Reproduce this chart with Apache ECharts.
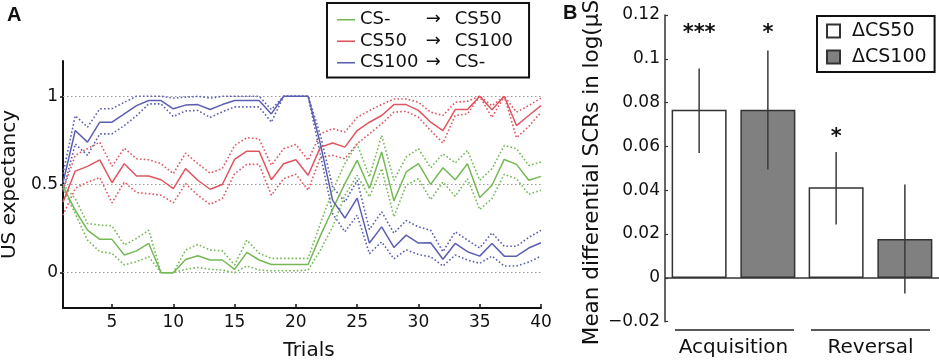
<!DOCTYPE html>
<html><head><meta charset="utf-8">
<script src="https://cdn.jsdelivr.net/npm/echarts@6/dist/echarts.min.js"></script>
<style>html,body{margin:0;padding:0;background:#fff}#c{width:939px;height:360px}</style>
</head><body><div id="c"></div>
<script>
// ---------- Panel A data ----------
const trials = [1,2,3,4,5,6,7,8,9,10,11,12,13,14,15,16,17,18,19,20,21,22,23,24,25,26,27,28,29,30,31,32,33,34,35,36,37,38,39,40];
const xTickValues = [5,10,15,20,25,30,35,40];
const yTickValues = [0,0.5,1];
const conditions = ['CS-','CS50','CS100'];
const reversalTargets = ['CS50','CS100','CS-'];

const csMinusMean = [0.49,0.354,0.241,0.189,0.189,0.10,0.124,0.166,0.0,0.0,0.075,0.096,0.072,0.072,0.019,0.115,0.072,0.047,0.047,0.047,0.047,0.21,0.36,0.505,0.637,0.477,0.684,0.407,0.571,0.618,0.501,0.595,0.527,0.618,0.426,0.496,0.642,0.614,0.524,0.546];
const csMinusUpper = [0.50,0.42,0.279,0.27,0.266,0.157,0.194,0.241,0.0,0.0,0.128,0.16,0.128,0.124,0.044,0.185,0.11,0.081,0.081,0.081,0.081,0.279,0.467,0.618,0.731,0.543,0.778,0.524,0.656,0.703,0.595,0.674,0.622,0.693,0.524,0.59,0.721,0.703,0.608,0.627];
const csMinusLower = [0.48,0.335,0.185,0.119,0.11,0.044,0.063,0.09,0.0,0.0,0.019,0.03,0.019,0.015,0.0,0.038,0.015,0.011,0.011,0.011,0.015,0.128,0.26,0.439,0.552,0.43,0.59,0.317,0.496,0.533,0.414,0.514,0.433,0.533,0.358,0.42,0.558,0.533,0.445,0.467];

const cs50Mean = [0.40,0.576,0.603,0.64,0.51,0.618,0.548,0.548,0.527,0.477,0.59,0.524,0.473,0.50,0.642,0.689,0.689,0.527,0.618,0.64,0.552,0.712,0.735,0.712,0.806,0.853,0.891,0.953,0.953,0.92,0.853,0.806,0.925,0.925,1.0,0.923,1.0,0.834,0.891,0.947];
const cs50Upper = [0.47,0.665,0.703,0.74,0.603,0.706,0.646,0.64,0.618,0.561,0.678,0.618,0.565,0.59,0.721,0.765,0.759,0.609,0.703,0.727,0.637,0.787,0.816,0.797,0.881,0.919,0.953,0.985,0.985,0.966,0.91,0.891,0.966,0.972,1.0,0.947,1.0,0.91,0.947,0.99];
const cs50Lower = [0.326,0.477,0.514,0.539,0.396,0.514,0.454,0.448,0.439,0.396,0.505,0.439,0.388,0.42,0.561,0.614,0.614,0.439,0.533,0.558,0.467,0.655,0.665,0.646,0.731,0.787,0.844,0.91,0.915,0.881,0.806,0.735,0.891,0.9,1.0,0.88,1.0,0.765,0.829,0.91];

const cs100Mean = [0.51,0.806,0.74,0.853,0.853,0.90,0.947,0.976,0.976,0.929,0.95,0.953,0.925,0.953,0.976,0.976,0.976,0.90,1.0,1.0,1.0,0.73,0.41,0.31,0.423,0.168,0.26,0.143,0.213,0.168,0.17,0.076,0.166,0.119,0.094,0.166,0.094,0.094,0.14,0.17];
const cs100Upper = [0.56,0.89,0.825,0.929,0.93,0.966,1.0,1.0,1.0,0.99,0.995,1.0,0.99,1.0,1.0,1.0,1.0,0.925,1.0,1.0,1.0,0.78,0.486,0.401,0.524,0.245,0.345,0.224,0.296,0.26,0.24,0.119,0.232,0.185,0.14,0.226,0.15,0.15,0.2,0.24];
const cs100Lower = [0.46,0.73,0.665,0.787,0.787,0.834,0.89,0.957,0.957,0.885,0.917,0.92,0.88,0.912,0.94,0.94,0.94,0.853,1.0,1.0,1.0,0.67,0.335,0.232,0.326,0.108,0.175,0.079,0.13,0.103,0.09,0.038,0.1,0.072,0.053,0.094,0.038,0.038,0.06,0.094];

// ---------- Panel B data ----------
const phases = ['Acquisition','Reversal'];
const barSeriesNames = ['ΔCS50','ΔCS100'];
const deltaCS50 = [0.0767, 0.0414];
const deltaCS100 = [0.0767, 0.0178];
const deltaCS50Err = [[0.057, 0.0956],[0.0244, 0.0575]];
const deltaCS100Err = [[0.0495, 0.1038],[-0.0071, 0.0426]];
const deltaCS50Stars = ['***','*'];
const deltaCS100Stars = ['*',''];
const deltaCS50StarY = [0.1136, 0.0662];
const deltaCS100StarY = [0.1136, null];
const baselineValue = 0;

// ---------- style ----------
const FONT = 'DejaVu Sans';
const colors = ['#74b955','#e05560','#5b5fb2'];
const BAR_W = 55, BAR_GAP = 0.25;
const OFF = (BAR_W * (1 + BAR_GAP)) / 2;

const meanArrs = [csMinusMean, cs50Mean, cs100Mean];
const upperArrs = [csMinusUpper, cs50Upper, cs100Upper];
const lowerArrs = [csMinusLower, cs50Lower, cs100Lower];
const pair = arr => trials.map((t,i)=>[t, arr[i]]);

const series = [];
conditions.forEach((name, k) => {
  [['upper', upperArrs[k]], ['lower', lowerArrs[k]]].forEach(([suffix, arr]) => {
    series.push({
      name: name + ' ' + suffix, type:'line', xAxisIndex:0, yAxisIndex:0,
      data: pair(arr), showSymbol:false, symbol:'none', color: colors[k], z: 3,
      lineStyle:{color: colors[k], width:1.6, type:[1.6,2.2]}, silent:true, animation:false
    });
  });
});
conditions.forEach((name, k) => {
  const s = {
    name, type:'line', xAxisIndex:0, yAxisIndex:0,
    data: pair(meanArrs[k]), showSymbol:false, symbol:'none', color: colors[k], z: 4,
    lineStyle:{color: colors[k], width:1.5}, silent:true, animation:false
  };
  if (k === 0) {
    s.markLine = {
      silent:true, symbol:['none','none'], label:{show:false}, z:1,
      lineStyle:{color:'#9a9a9a', type:[1.5,2.5], width:1.2},
      data: yTickValues.map(v => ({yAxis: v}))
    };
  }
  series.push(s);
});

// Bars
const barVals = [deltaCS50, deltaCS100];
const barStyles = [
  {color:'#ffffff', borderColor:'#333', borderWidth:1.5},
  {color:'#808080', borderColor:'#333', borderWidth:1.5}
];
barSeriesNames.forEach((name, k) => {
  const s = {
    name, type:'bar', xAxisIndex:1, yAxisIndex:1, data: barVals[k],
    barWidth: BAR_W, barGap: (BAR_GAP*100)+'%', itemStyle: barStyles[k], animation:false, silent:true, z:2
  };
  if (k === 0) {
    s.markLine = {
      silent:true, symbol:['none','none'], label:{show:false}, z:3,
      lineStyle:{color:'#333', type:'solid', width:1.5},
      data:[{yAxis: baselineValue}]
    };
  }
  series.push(s);
});

// Error bars
const errRows = [];
[deltaCS50Err, deltaCS100Err].forEach((errs, k) => {
  errs.forEach((e, c) => errRows.push([c, e[0], e[1], k === 0 ? -1 : 1]));
});
series.push({
  type:'custom', xAxisIndex:1, yAxisIndex:1, data: errRows, z: 5, silent:true, animation:false,
  encode:{x:0, y:[1,2]},
  renderItem(params, api) {
    const c = api.value(0);
    const lo = api.coord([c, api.value(1)]);
    const hi = api.coord([c, api.value(2)]);
    const off = api.value(3) * OFF;
    return {type:'line', shape:{x1:lo[0]+off, y1:lo[1], x2:hi[0]+off, y2:hi[1]},
            style:{stroke:'#3a3a3a', lineWidth:1.5}};
  }
});

// Stars
const starRows = [], starTexts = [];
[[deltaCS50Stars, deltaCS50StarY, -1],[deltaCS100Stars, deltaCS100StarY, 1]].forEach(([txts, ys, sgn]) => {
  txts.forEach((t, c) => { if (t && ys[c] != null) { starRows.push([c, ys[c], sgn]); starTexts.push(t); } });
});
series.push({
  type:'custom', xAxisIndex:1, yAxisIndex:1, data: starRows, z: 6, silent:true, animation:false,
  encode:{x:0, y:1},
  renderItem(params, api) {
    const p = api.coord([api.value(0), api.value(1)]);
    return {type:'text', x: p[0] + api.value(2)*OFF, y: p[1] + 5,
            style:{text: starTexts[params.dataIndex], fontSize:21, fontFamily: FONT, fontWeight:'bold',
                   fill:'#111', align:'center', verticalAlign:'middle'}};
  }
});

const option = {
  animation:false,
  backgroundColor:'#ffffff',
  textStyle:{fontFamily: FONT},
  grid:[
    {left:63, top:61, width:478, height:247, outerBoundsMode:'none', containLabel:false},
    {left:665, top:15, width:274, height:306.7, outerBoundsMode:'none', containLabel:false}
  ],
  xAxis:[
    {type:'value', gridIndex:0, min:1, max:40,
     name:'Trials', nameLocation:'middle', nameGap:33,
     nameTextStyle:{fontSize:20, color:'#111', fontFamily:FONT, padding:[0,0,0,14]},
     axisLine:{onZero:false, lineStyle:{color:'#111', width:2}},
     axisTick:{show:true, inside:true, length:4, lineStyle:{color:'#111', width:1.5}, customValues: xTickValues},
     axisLabel:{fontSize:17, color:'#111', margin:6, fontFamily:FONT, customValues: xTickValues},
     splitLine:{show:false}},
    {type:'category', gridIndex:1, data: phases, position:'bottom',
     axisLine:{show:false, onZero:false},
     axisTick:{show:false},
     axisLabel:{show:true, fontSize:20, color:'#111', margin:16, fontFamily:FONT, interval:0},
     splitLine:{show:false}}
  ],
  yAxis:[
    {type:'value', gridIndex:0, min:-0.2, max:1.2,
     name:'US expectancy', nameLocation:'middle', nameGap:43, nameRotate:90,
     nameTextStyle:{fontSize:20, color:'#111', fontFamily:FONT},
     axisLine:{onZero:false, lineStyle:{color:'#111', width:2}},
     axisTick:{show:true, inside:false, length:3, lineStyle:{color:'#111', width:1.5}, customValues: yTickValues},
     axisLabel:{fontSize:17, color:'#111', margin:5, fontFamily:FONT, customValues: yTickValues},
     splitLine:{show:false}},
    {type:'value', gridIndex:1, min:-0.02, max:0.12, interval:0.02,
     name:'Mean differential SCRs in log(μS)', nameLocation:'middle', nameGap:62, nameRotate:90,
     nameTextStyle:{fontSize:21.5, color:'#111', fontFamily:FONT, padding:[0,0,0,0]},
     axisLine:{show:true, onZero:false, lineStyle:{color:'#333', width:1.5}},
     axisTick:{show:true, inside:true, length:3, lineStyle:{color:'#333', width:1.2}},
     axisLabel:{fontSize:17, color:'#111', margin:5, fontFamily:FONT,
       formatter: v => { const r = parseFloat(v.toFixed(2)); return r < 0 ? '−' + String(-r) : String(r); }},
     splitLine:{show:false}}
  ],
  legend:[
    {data: conditions, orient:'vertical', left:327, top:3, padding:[6,16,4,10], itemGap:0,
     icon:'rect', itemWidth:18, itemHeight:1.6,
     borderColor:'#111', borderWidth:2, backgroundColor:'#fff',
     selectedMode:false,
     formatter: name => '{a|' + name + '}{b|→}{c|' + reversalTargets[conditions.indexOf(name)] + '}',
     textStyle:{fontSize:18, color:'#111', fontFamily:FONT, lineHeight:21.5,
       rich:{a:{width:65.7, fontSize:18, fontFamily:FONT, color:'#111'},
             b:{width:29, fontSize:18, fontFamily:FONT, color:'#111'},
             c:{fontSize:18, fontFamily:FONT, color:'#111'}}}},
    {data: barSeriesNames, orient:'vertical', left:817, top:16, padding:[5,8,5,9], itemGap:6,
     icon:'rect', itemWidth:13, itemHeight:13,
     borderColor:'#111', borderWidth:2, backgroundColor:'#fff', selectedMode:false,
     textStyle:{fontSize:19, color:'#111', fontFamily:FONT, lineHeight:20, padding:[0,0,0,7]}}
  ],
  graphic:[
    {type:'text', left:7, top:5, style:{text:'A', fontSize:20, fontWeight:'bold', fontFamily:'Liberation Sans', fill:'#111'}},
    {type:'text', left:563, top:3, style:{text:'B', fontSize:20, fontWeight:'bold', fontFamily:'Liberation Sans', fill:'#111'}},
    {type:'line', shape:{x1:675, y1:330, x2:794, y2:330}, style:{stroke:'#222', lineWidth:1.5}},
    {type:'line', shape:{x1:811, y1:330, x2:930, y2:330}, style:{stroke:'#222', lineWidth:1.5}}
  ],
  series
};
const chart = echarts.init(document.getElementById('c'), null, {renderer:'canvas'});
chart.setOption(option);
</script></body></html>
